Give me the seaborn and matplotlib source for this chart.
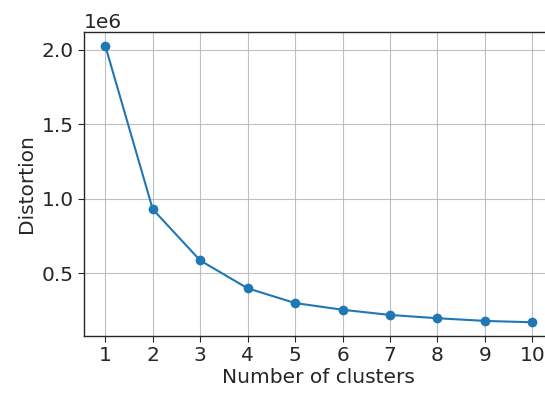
import pandas as pd
import seaborn as sns
import matplotlib.pyplot as plt

# elbow curve values
clusters = [1, 2, 3, 4, 5, 6, 7, 8, 9, 10]
distortion = [2.027e6, 0.929e6, 0.585e6, 0.398e6, 0.299e6,
              0.254e6, 0.219e6, 0.197e6, 0.179e6, 0.170e6]
y_ticks = [0.5e6, 1.0e6, 1.5e6, 2.0e6]

df = pd.DataFrame({'Number of clusters': clusters, 'Distortion': distortion})

sns.set_style("ticks")
plt.rcParams['font.family'] = ['DejaVu Sans']
fs = 14.5

fig = plt.figure(figsize=(5.45, 3.94), dpi=100)
ax = fig.add_axes([0.154, 0.147, 0.862, 0.772])

sns.lineplot(data=df, x='Number of clusters', y='Distortion', marker='o',
             markersize=7, markeredgewidth=0, color='#1f77b4', linewidth=1.5, ax=ax)

ax.set_xticks(clusters)
ax.set_yticks(y_ticks)
ax.set_xlim(0.55, 10.45)
ax.grid(True, color='#b0b0b0', linewidth=0.8, alpha=0.8)
ax.tick_params(labelsize=fs, colors='#262626', direction='out', length=4)
ax.yaxis.get_offset_text().set_fontsize(fs)
ax.set_xlabel('Number of clusters', fontsize=fs, labelpad=2)
ax.set_ylabel('Distortion', fontsize=fs, labelpad=4)
for s in ax.spines.values():
    s.set_color('#262626')
    s.set_linewidth(1)

fig.savefig('out.png', dpi=100)
